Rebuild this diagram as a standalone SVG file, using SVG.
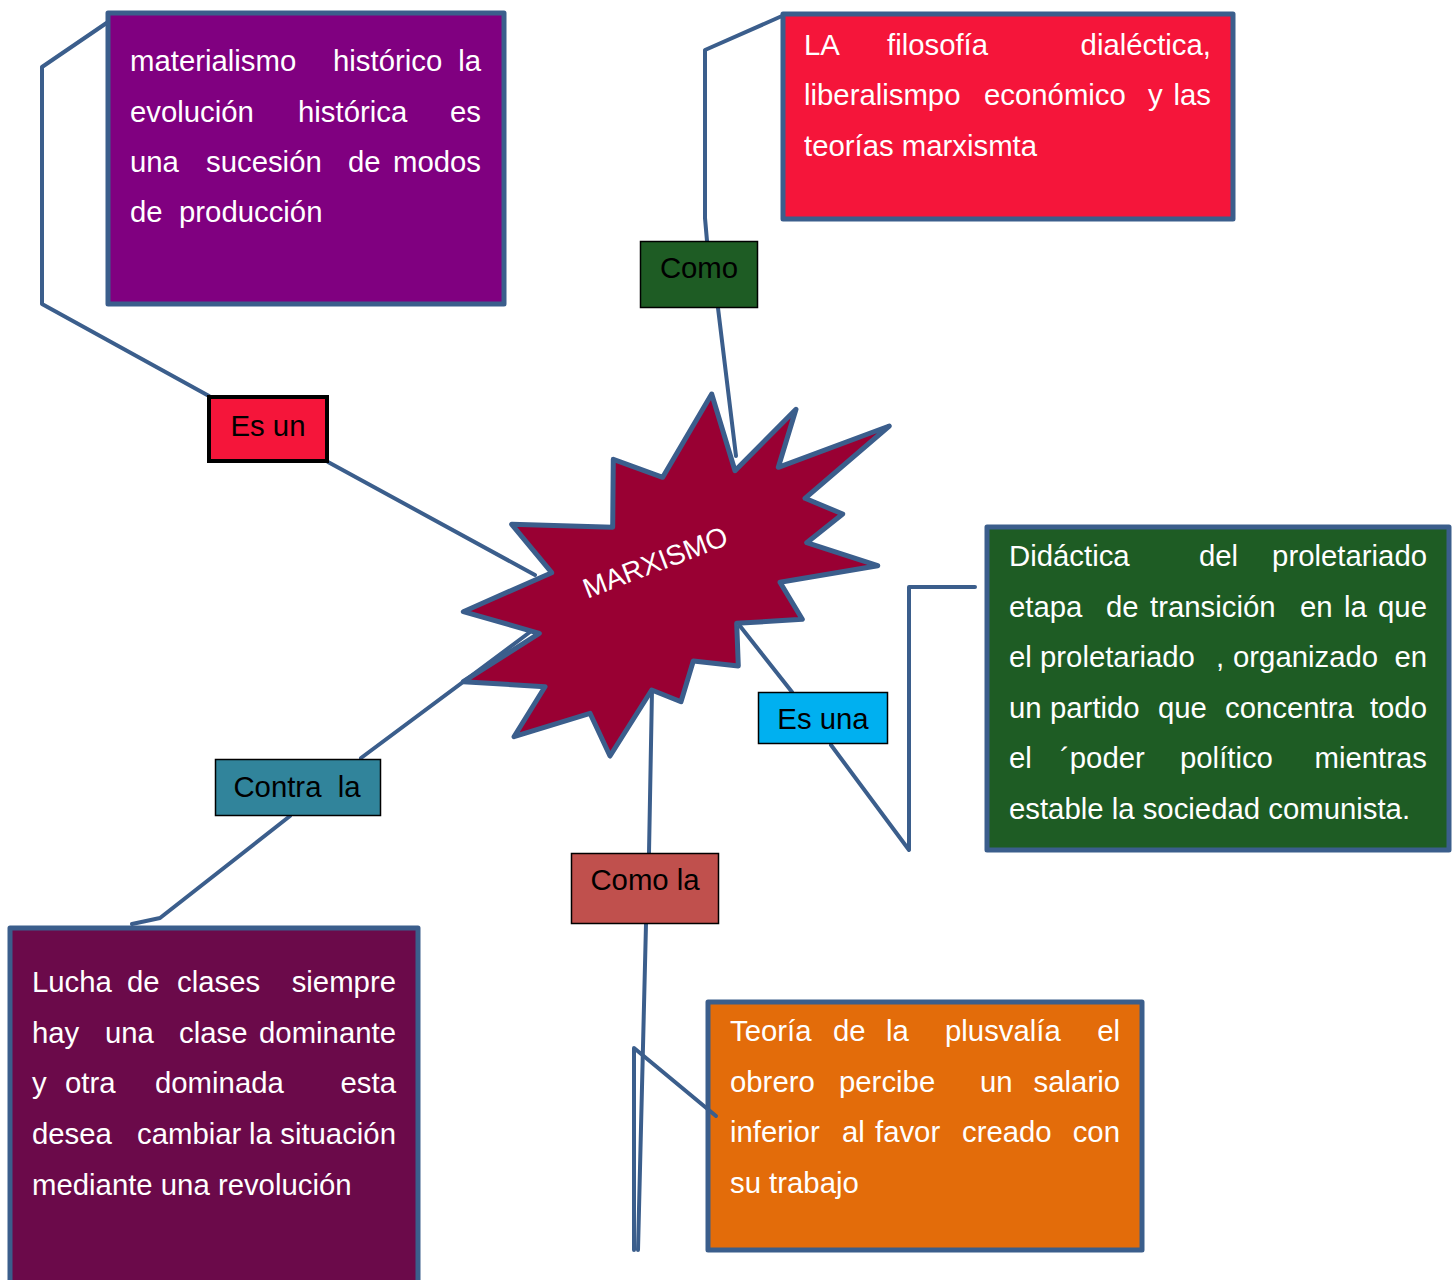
<svg xmlns="http://www.w3.org/2000/svg" width="1452" height="1280" viewBox="0 0 1452 1280">
<style>
.c{fill:none;stroke:#3B5E8C;stroke-width:4;stroke-linejoin:round;stroke-linecap:round}
.box{stroke:#3B5E8C;stroke-width:5;stroke-linejoin:round}
.lbl{stroke:#000;stroke-width:1.5}
.t{font-family:"Liberation Sans",Arial,sans-serif;font-size:29.33px;fill:#fff}
.lt{font-family:"Liberation Sans",Arial,sans-serif;font-size:29.33px;fill:#000;text-anchor:middle}
</style>
<rect width="1452" height="1280" fill="#fff"/>
<g id="materialismo">
<rect class="box" x="108" y="13" width="396" height="291" fill="#800080"/>
<text class="t" y="71"><tspan x="130">materialismo</tspan><tspan x="333">histórico</tspan><tspan x="481" text-anchor="end">la</tspan></text>
<text class="t" y="122"><tspan x="130">evolución</tspan><tspan x="298">histórica</tspan><tspan x="481" text-anchor="end">es</tspan></text>
<text class="t" y="172"><tspan x="130">una</tspan><tspan x="206">sucesión</tspan><tspan x="348">de</tspan><tspan x="481" text-anchor="end">modos</tspan></text>
<text class="t" y="222"><tspan x="130">de</tspan><tspan x="179">producción</tspan></text>
</g>
<g id="filosofia">
<rect class="box" x="783" y="14" width="450" height="205" fill="#F5153A"/>
<text class="t" y="55"><tspan x="804">LA</tspan><tspan x="887">filosofía</tspan><tspan x="1211" text-anchor="end">dialéctica,</tspan></text>
<text class="t" y="105"><tspan x="804">liberalismpo</tspan><tspan x="984">económico</tspan><tspan x="1148">y</tspan><tspan x="1211" text-anchor="end">las</tspan></text>
<text class="t" y="156"><tspan x="804">teorías marxismta</tspan></text>
</g>
<g id="didactica">
<rect class="box" x="987" y="527" width="462" height="323" fill="#1E5C24"/>
<text class="t" y="566"><tspan x="1009">Didáctica</tspan><tspan x="1199">del</tspan><tspan x="1427" text-anchor="end">proletariado</tspan></text>
<text class="t" y="617"><tspan x="1009">etapa</tspan><tspan x="1106">de</tspan><tspan x="1150">transición</tspan><tspan x="1300">en</tspan><tspan x="1344">la</tspan><tspan x="1427" text-anchor="end">que</tspan></text>
<text class="t" y="667"><tspan x="1009">el</tspan><tspan x="1040">proletariado</tspan><tspan x="1216">,</tspan><tspan x="1233">organizado</tspan><tspan x="1427" text-anchor="end">en</tspan></text>
<text class="t" y="718"><tspan x="1009">un</tspan><tspan x="1050">partido</tspan><tspan x="1158">que</tspan><tspan x="1225">concentra</tspan><tspan x="1427" text-anchor="end">todo</tspan></text>
<text class="t" y="768"><tspan x="1009">el</tspan><tspan x="1060">´poder</tspan><tspan x="1180">político</tspan><tspan x="1427" text-anchor="end">mientras</tspan></text>
<text class="t" y="819"><tspan x="1009">estable la sociedad comunista.</tspan></text>
</g>
<g id="lucha">
<rect class="box" x="10" y="928" width="408" height="380" fill="#6B0A4A"/>
<text class="t" y="992"><tspan x="32">Lucha</tspan><tspan x="127">de</tspan><tspan x="177">clases</tspan><tspan x="396" text-anchor="end">siempre</tspan></text>
<text class="t" y="1043"><tspan x="32">hay</tspan><tspan x="105">una</tspan><tspan x="179">clase</tspan><tspan x="396" text-anchor="end">dominante</tspan></text>
<text class="t" y="1093"><tspan x="32">y</tspan><tspan x="65">otra</tspan><tspan x="155">dominada</tspan><tspan x="396" text-anchor="end">esta</tspan></text>
<text class="t" y="1144"><tspan x="32">desea</tspan><tspan x="137">cambiar</tspan><tspan x="249">la</tspan><tspan x="396" text-anchor="end">situación</tspan></text>
<text class="t" y="1195"><tspan x="32">mediante una revolución</tspan></text>
</g>
<g id="plusvalia">
<rect class="box" x="708" y="1002" width="434" height="248" fill="#E36C0A"/>
<text class="t" y="1041"><tspan x="730">Teoría</tspan><tspan x="833">de</tspan><tspan x="886">la</tspan><tspan x="945">plusvalía</tspan><tspan x="1120" text-anchor="end">el</tspan></text>
<text class="t" y="1092"><tspan x="730">obrero</tspan><tspan x="839">percibe</tspan><tspan x="980">un</tspan><tspan x="1120" text-anchor="end">salario</tspan></text>
<text class="t" y="1142"><tspan x="730">inferior</tspan><tspan x="842">al</tspan><tspan x="875">favor</tspan><tspan x="962">creado</tspan><tspan x="1120" text-anchor="end">con</tspan></text>
<text class="t" y="1193"><tspan x="730">su trabajo</tspan></text>
</g>
<g id="connectors">
<path class="c" d="M209,396 L42,304 L42,67 L108,22"/>
<path class="c" d="M328,462 L535,575"/>
<path class="c" d="M707,241 L705,218 L705,50 L782,16"/>
<path class="c" d="M718,308 L736,456"/>
<path class="c" d="M740,626 L792,692"/>
<path class="c" d="M831,745 L909,850 L909,587 L975,587"/>
<path class="c" d="M361,758 L530,632"/>
<path class="c" d="M290,816 L160,918 L132,924"/>
<path class="c" d="M652,690 L649,853"/>
<path class="c" d="M646,924 L638,1250"/>
<path class="c" d="M634,1250 L634,1048 L716,1116"/>
</g>
<g id="marxismo">
<polygon points="711.7,394 735,470.7 796,409.3 778.3,467.3 889.3,426 805,498.3 842.7,514 806.7,542.7 877.7,565.7 780,582.3 802.3,619.3 736.7,623.3 738.3,666 693.3,661 681,701.7 651.7,690 610,756 590,713.3 514,736.7 545,686.7 463.3,681.7 539.3,633.3 463.3,611.7 551.7,572.7 511.7,524.3 612.7,527.3 613.3,459.3 662.7,477.3" fill="#990033" stroke="#3B5E8C" stroke-width="5" stroke-linejoin="round"/>
<text transform="translate(655,562) rotate(-21)" x="0" y="10" font-family="'Liberation Sans',Arial,sans-serif" font-size="28" fill="#fff" text-anchor="middle">MARXISMO</text>
</g>
<g id="es-un">
<rect x="209" y="397" width="118" height="64" fill="#F5153A" stroke="#000" stroke-width="4"/>
<text class="lt" x="268" y="436">Es un</text>
</g>
<g id="como">
<rect class="lbl" x="640.5" y="241.5" width="117" height="66" fill="#1E5C24"/>
<text class="lt" x="699" y="278">Como</text>
</g>
<g id="es-una">
<rect class="lbl" x="758.5" y="692.5" width="129" height="51" fill="#00B0F0"/>
<text class="lt" x="823" y="729">Es una</text>
</g>
<g id="contra-la">
<rect class="lbl" x="215.5" y="759.5" width="165" height="56" fill="#31849B"/>
<text class="lt" x="297" y="797" xml:space="preserve">Contra  la</text>
</g>
<g id="como-la">
<rect class="lbl" x="571.5" y="853.5" width="147" height="70" fill="#C0504D"/>
<text class="lt" x="645" y="890">Como la</text>
</g>
</svg>
